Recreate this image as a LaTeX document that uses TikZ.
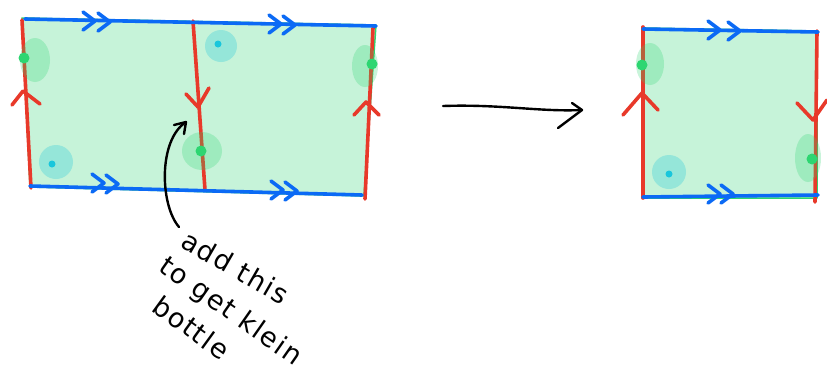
\documentclass[tikz,border=0pt]{standalone}
\usepackage{fontspec}
\setsansfont{DejaVu Sans}
\definecolor{fillg}{HTML}{C6F3D9}
\definecolor{greenc}{HTML}{2DD671}
\definecolor{cyanc}{HTML}{19C6DC}
\definecolor{redc}{HTML}{E8392A}
\definecolor{bluec}{HTML}{0B6AF5}
\begin{document}
\begin{tikzpicture}[x=1pt,y=-1pt,line cap=round,line join=round,
  redl/.style={draw=redc,line width=3.6pt},
  bluel/.style={draw=bluec,line width=3.6pt},
  edge/.style={draw=greenc,line width=1.5pt},
  ghalo/.style={fill=greenc,fill opacity=0.26},
  chalo/.style={fill=cyanc,fill opacity=0.28},
  gdot/.style={circle,fill=greenc,inner sep=0pt,minimum size=11pt},
  cdot/.style={circle,fill=cyanc,inner sep=0pt,minimum size=7pt},
  inkl/.style={draw=black,line width=2.4pt},
  hand/.style={font=\sffamily\fontsize{27}{29}\selectfont\addfontfeature{LetterSpace=6},anchor=base west,inner sep=0pt}]
\useasboundingbox (0,0) rectangle (827,370);
% ---------- left rectangle ----------
\coordinate (L1) at (22,18);
\coordinate (L2) at (376,25);
\coordinate (L3) at (364,196);
\coordinate (L4) at (30,187);
\coordinate (M1) at (193,21);
\coordinate (M2) at (205,190);
\fill[fillg] (L1)--(L2)--(L3)--(L4)--cycle;
\draw[edge] (L1)--(L2)--(L3)--(L4)--cycle;
% red edges
\draw[redl] (22,20) -- (31,188);
\draw[redl] (M1) -- (M2);
\draw[redl] (373,28) -- (365,199);
% blue edges
\draw[bluel] (25,19) -- (376,26);
\draw[bluel] (30,186) -- (362,195);
% blue chevrons
\foreach \t in {(95,21),(110,22),(281,24),(295,25),(104,183),(118,184),(283,190),(297,191)}
  \draw[bluel] \t ++(-12,-9) -- ++(12,9) -- ++(-12,9);
% red chevrons
\draw[redl] (12,105) -- (23,91) -- (40,104);
\draw[redl] (186,94) -- (198,107) -- (209,88);
\draw[redl] (354,115) -- (366,102) -- (379,115);
% halos and dots
\fill[ghalo] (35,60) ellipse [x radius=15, y radius=22];
\fill[ghalo] (202,151) ellipse [x radius=20, y radius=19];
\fill[ghalo] (365,66) ellipse [x radius=13, y radius=21];
\fill[chalo] (221,46) ellipse [x radius=16, y radius=16];
\fill[chalo] (56,162) ellipse [x radius=17, y radius=17];
\node[gdot] (d1) at (24,58) {};
\node[gdot] (d2) at (201,151) {};
\node[gdot] (d3) at (372,64) {};
\node[cdot] (c1) at (218,44) {};
\node[cdot] (c2) at (52,164) {};
% ---------- annotation ----------
\node[hand,rotate=-30] (t1) at (179,246) {add this};
\node[hand,rotate=-35] (t2) at (157,270) {to get klein};
\node[hand,rotate=-36] (t3) at (150,310) {bottle};
\coordinate (ca) at (179,227);
\coordinate (cb) at (186,122);
\draw[inkl] (ca) .. controls (160,205) and (158,140) .. (cb);
\draw[inkl] (174,125) -- (cb) -- (184,134);
% ---------- big arrow ----------
\coordinate (aa) at (443,106);
\coordinate (ab) at (582,110);
\draw[inkl] (aa) .. controls (500,104) and (540,112) .. (ab);
\draw[inkl] (572,103) -- (ab) -- (558,128);
% ---------- right square ----------
\coordinate (R1) at (643,28);
\coordinate (R2) at (817,31);
\coordinate (R3) at (817,198);
\coordinate (R4) at (643,198);
\fill[fillg] (R1)--(R2)--(R3)--(R4)--cycle;
\draw[edge] (R1)--(R2)--(R3)--(R4)--cycle;
\draw[redl] (643,27) -- (643,198);
\draw[redl] (817,31) -- (815,202);
\draw[bluel] (643,29) -- (818,32);
\draw[bluel] (643,197) -- (818,195);
\foreach \t in {(720,30),(740,31),(720,194),(733,194)}
  \draw[bluel] \t ++(-12,-9) -- ++(12,9) -- ++(-12,9);
\draw[redl] (623,115) -- (642,93) -- (658,110);
\draw[redl] (797,103) -- (813,120) -- (827,100);
\fill[ghalo] (650,64) ellipse [x radius=14, y radius=21];
\fill[ghalo] (808,158) ellipse [x radius=13, y radius=24];
\fill[chalo] (669,172) ellipse [x radius=17, y radius=17];
\node[gdot] (d4) at (642,65) {};
\node[gdot] (d5) at (812,159) {};
\node[cdot] (c3) at (669,174) {};
\end{tikzpicture}
\end{document}
